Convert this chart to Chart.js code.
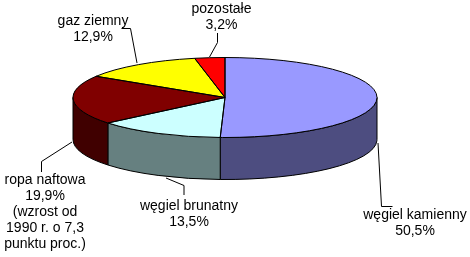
<!DOCTYPE html>
<html>
<head>
<meta charset="utf-8">
<script src="https://cdn.jsdelivr.net/npm/chart.js@4.4.0/dist/chart.umd.min.js"></script>
<style>
  html, body { margin: 0; padding: 0; background: #fff; }
  #wrap { width: 470px; height: 257px; }
</style>
</head>
<body>
<div id="wrap"><canvas id="chart" width="470" height="257"></canvas></div>
<script>
// dane: struktura zużycia energii pierwotnej
const categories = ['węgiel kamienny', 'węgiel brunatny', 'ropa naftowa', 'gaz ziemny', 'pozostałe'];
const shares = [50.5, 13.5, 19.9, 12.9, 3.2];
const extraNotes = [[], [], ['(wzrost od', '1990 r. o 7,3', 'punktu proc.)'], [], []];
const topColors = ['#9999FF', '#CCFFFF', '#800000', '#FFFF00', '#FF0000'];

// wygląd "3D" - elipsa i grubość tortu
const ELLIPSE = { cx: 225, cy: 97.5, rx: 152, ry: 40, depth: 42 };

// pozycje etykiet (środek tekstu, linia bazowa 1. wiersza) i linie odniesienia
const labelLayout = [
  { x: 415, y: 219, leader: [[392.5, 206.5], [381.5, 206.5], [378, 143]] },
  { x: 189, y: 209.5, leader: [[184, 195], [184, 185.5], [166, 178]] },
  { x: 45, y: 184, leader: [[41.5, 172], [41.5, 161.5], [72, 142]] },
  { x: 93, y: 24.5, leader: [[121.5, 28.5], [130.5, 28.5], [137, 63]] },
  { x: 221.5, y: 12.5, leader: [[217.5, 33], [217.5, 42.5], [209.5, 57]] }
];
const LINE_H = 16;

function darker(hex) {
  const n = parseInt(hex.slice(1), 16);
  const r = (n >> 16) & 255, g = (n >> 8) & 255, b = n & 255;
  return 'rgb(' + Math.round(r / 2) + ',' + Math.round(g / 2) + ',' + Math.round(b / 2) + ')';
}

function fmt(v) {
  return v.toFixed(1).replace('.', ',') + '%';
}

const pie3d = {
  id: 'pie3d',
  beforeDatasetsDraw(chart) {
    const ctx = chart.ctx;
    const e = ELLIPSE;
    const arcs = chart.getDatasetMeta(0).data;
    // boczna ściana - tylko dolna (widoczna) połowa
    arcs.forEach((arc, i) => {
      const a1 = Math.max(arc.startAngle, 0);
      const a2 = Math.min(arc.endAngle, Math.PI);
      if (a2 <= a1) return;
      ctx.beginPath();
      ctx.ellipse(e.cx, e.cy, e.rx, e.ry, 0, a1, a2);
      ctx.lineTo(e.cx + e.rx * Math.cos(a2), e.cy + e.depth + e.ry * Math.sin(a2));
      ctx.ellipse(e.cx, e.cy + e.depth, e.rx, e.ry, 0, a2, a1, true);
      ctx.closePath();
      ctx.fillStyle = darker(topColors[i]);
      ctx.fill();
      ctx.lineWidth = 1;
      ctx.strokeStyle = '#000';
      ctx.stroke();
    });
    // spłaszczenie koła do elipsy
    const first = arcs[0];
    ctx.save();
    ctx.translate(e.cx, e.cy);
    ctx.scale(e.rx / first.outerRadius, e.ry / first.outerRadius);
    ctx.translate(-first.x, -first.y);
  },
  afterDatasetsDraw(chart) {
    const ctx = chart.ctx;
    const e = ELLIPSE;
    ctx.restore();
    const arcs = chart.getDatasetMeta(0).data;
    ctx.save();
    ctx.lineWidth = 1;
    ctx.strokeStyle = '#000';
    arcs.forEach(arc => {
      ctx.beginPath();
      ctx.moveTo(e.cx, e.cy);
      ctx.ellipse(e.cx, e.cy, e.rx, e.ry, 0, arc.startAngle, arc.endAngle);
      ctx.closePath();
      ctx.stroke();
    });
    ctx.restore();
  },
  afterDraw(chart) {
    const ctx = chart.ctx;
    ctx.save();
    ctx.strokeStyle = '#000';
    ctx.lineWidth = 1;
    labelLayout.forEach(l => {
      ctx.beginPath();
      l.leader.forEach((p, j) => j ? ctx.lineTo(p[0], p[1]) : ctx.moveTo(p[0], p[1]));
      ctx.stroke();
    });
    ctx.fillStyle = '#000';
    ctx.font = '14px "Liberation Sans", Arial, sans-serif';
    ctx.textAlign = 'center';
    ctx.textBaseline = 'alphabetic';
    categories.forEach((c, i) => {
      const lines = [c, fmt(shares[i])].concat(extraNotes[i]);
      const l = labelLayout[i];
      lines.forEach((t, j) => ctx.fillText(t, l.x, l.y + j * LINE_H));
    });
    ctx.restore();
  }
};

new Chart(document.getElementById('chart'), {
  type: 'pie',
  data: {
    labels: categories,
    datasets: [{
      data: shares,
      backgroundColor: topColors,
      borderWidth: 0,
      clip: false
    }]
  },
  options: {
    responsive: false,
    animation: false,
    events: [],
    plugins: {
      legend: { display: false },
      tooltip: { enabled: false }
    }
  },
  plugins: [pie3d]
});
</script>
</body>
</html>
